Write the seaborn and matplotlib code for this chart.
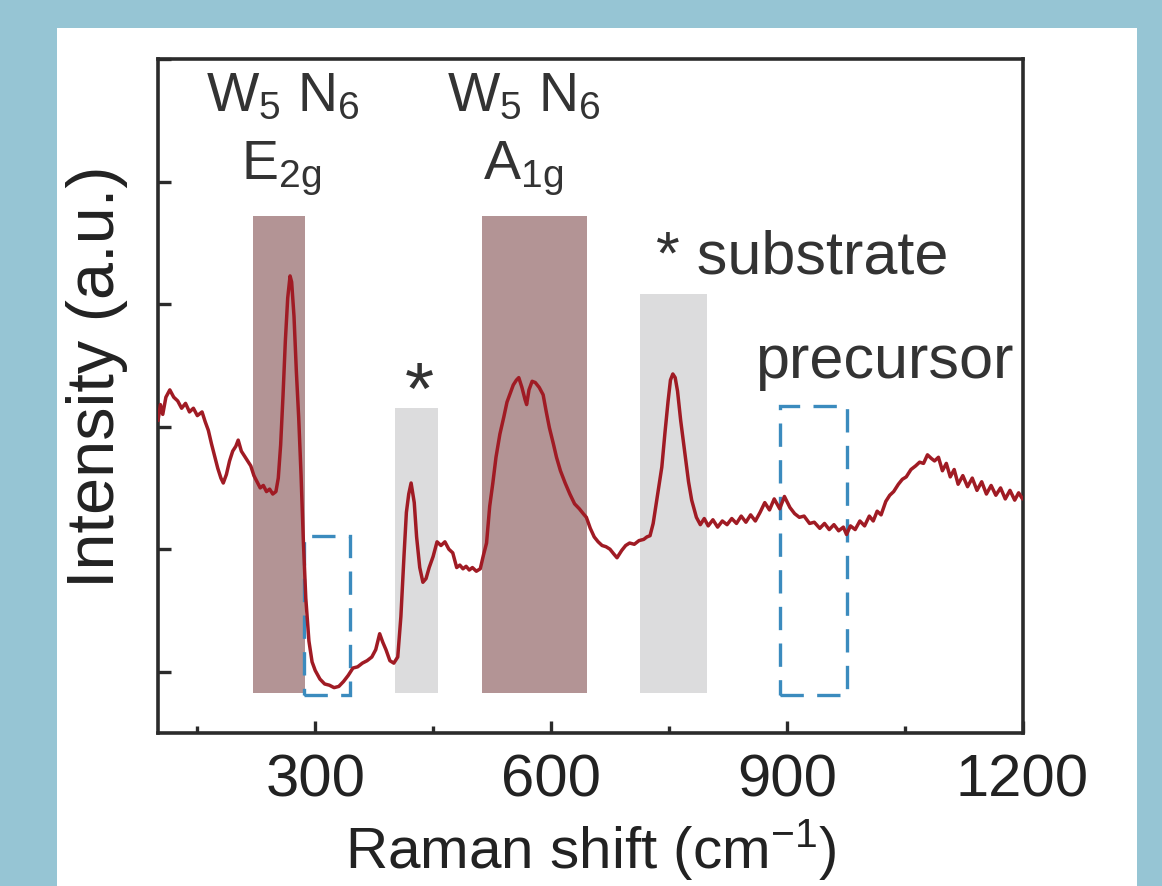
import numpy as np
import pandas as pd
import seaborn as sns
import matplotlib.pyplot as plt
from matplotlib.patches import Rectangle

# Raman spectrum (shift in cm-1, intensity in y-tick units)
shift = [100, 103, 106, 110, 115, 120, 125, 130, 135, 140, 145, 150, 156, 160, 164,
         168, 172, 176, 180, 183, 187, 191, 195, 199, 202, 206, 210, 214, 218, 222,
         226, 230, 234, 238, 242, 246, 250, 253, 256, 259, 262, 265, 268, 270, 273,
         276, 279, 282, 285, 288, 292, 296, 300, 306, 312, 318, 324, 330, 336, 342,
         348, 354, 360, 366, 372, 377, 382, 386, 390, 395, 400, 405, 409, 413, 416,
         419, 422, 426, 429, 433, 437, 441, 445, 450, 455, 460, 465, 470, 475, 480,
         484, 488, 492, 496, 500, 505, 510, 514, 518, 522, 526, 530, 535, 540, 544,
         548, 552, 556, 559, 563, 567, 569, 572, 576, 580, 585, 590, 594, 598, 603,
         607, 612, 618, 624, 630, 636, 641, 645, 650, 655, 660, 665, 670, 675, 680,
         684, 690, 695, 700, 706, 712, 718, 722, 726, 730, 735, 741, 745, 749, 752,
         755, 758, 761, 765, 770, 775, 779, 785, 790, 795, 800, 806, 812, 818, 824,
         830, 836, 842, 848, 854, 860, 866, 872, 878, 884, 891, 897, 904, 910, 916,
         922, 929, 935, 942, 948, 954, 960, 966, 972, 976, 981, 987, 993, 999, 1005,
         1010, 1015, 1020, 1026, 1031, 1036, 1042, 1047, 1052, 1058, 1064, 1069, 1074,
         1079, 1084, 1088, 1093, 1098, 1103, 1108, 1113, 1118, 1124, 1130, 1136, 1142,
         1148, 1154, 1160, 1166, 1172, 1178, 1184, 1190, 1195, 1200]
intensity = [3.05, 3.18, 3.10, 3.24, 3.30, 3.24, 3.21, 3.15, 3.19, 3.12, 3.15, 3.09, 3.12, 3.04, 2.97,
             2.86, 2.76, 2.66, 2.58, 2.54, 2.61, 2.72, 2.80, 2.84, 2.89, 2.80, 2.76, 2.72, 2.68, 2.60,
             2.55, 2.50, 2.52, 2.47, 2.49, 2.45, 2.47, 2.58, 2.85, 3.25, 3.70, 4.05, 4.23, 4.18, 3.90,
             3.45, 3.07, 2.60, 2.05, 1.60, 1.25, 1.08, 1.01, 0.94, 0.90, 0.89, 0.87, 0.88, 0.92, 0.97,
             1.03, 1.04, 1.07, 1.09, 1.12, 1.18, 1.31, 1.24, 1.18, 1.09, 1.07, 1.12, 1.45, 1.95, 2.30,
             2.45, 2.54, 2.38, 2.10, 1.85, 1.73, 1.76, 1.85, 1.94, 2.06, 2.03, 2.06, 2.00, 1.97, 1.85,
             1.87, 1.84, 1.86, 1.83, 1.85, 1.82, 1.84, 1.95, 2.05, 2.35, 2.54, 2.75, 2.94, 3.08, 3.20,
             3.27, 3.34, 3.38, 3.40, 3.32, 3.22, 3.18, 3.30, 3.37, 3.36, 3.32, 3.26, 3.12, 2.99, 2.86,
             2.75, 2.64, 2.54, 2.45, 2.37, 2.33, 2.29, 2.26, 2.17, 2.10, 2.06, 2.03, 2.02, 2.00, 1.96,
             1.93, 1.99, 2.03, 2.05, 2.04, 2.07, 2.08, 2.10, 2.11, 2.21, 2.42, 2.67, 2.95, 3.21, 3.38,
             3.43, 3.40, 3.29, 3.05, 2.80, 2.55, 2.40, 2.26, 2.20, 2.25, 2.19, 2.24, 2.18, 2.23, 2.20,
             2.25, 2.21, 2.27, 2.22, 2.28, 2.23, 2.30, 2.38, 2.32, 2.41, 2.33, 2.43, 2.34, 2.29, 2.26,
             2.27, 2.21, 2.22, 2.17, 2.21, 2.16, 2.20, 2.15, 2.18, 2.12, 2.19, 2.16, 2.23, 2.19, 2.27,
             2.23, 2.31, 2.28, 2.39, 2.44, 2.47, 2.53, 2.57, 2.59, 2.65, 2.68, 2.71, 2.70,
             2.77, 2.74, 2.72, 2.75, 2.64, 2.70, 2.59, 2.65, 2.53, 2.60, 2.51, 2.58, 2.48,
             2.55, 2.45, 2.52, 2.44, 2.50, 2.41, 2.48, 2.40, 2.46, 2.41]

# shaded bands: W5N6 E2g, Si (*), W5N6 A1g, substrate (*)
band_left = [221, 401, 512, 713]
band_right = [287, 456, 646, 799]
band_bottom = [0.83, 0.83, 0.83, 0.83]
band_top = [4.72, 3.15, 4.72, 4.08]
band_color = ["#B39495", "#DCDCDD", "#B39495", "#DCDCDD"]

# dashed boxes marking the (missing) precursor peaks
box_left = [286, 891]
box_right = [344, 976]
box_bottom = [0.81, 0.81]
box_top = [2.11, 3.17]

sns.set_theme(style="ticks")
plt.rcParams["font.family"] = ["Liberation Sans", "DejaVu Sans"]
plt.rcParams["mathtext.fontset"] = "custom"
plt.rcParams["mathtext.rm"] = "Liberation Sans"
plt.rcParams["mathtext.it"] = "Liberation Sans:italic"

text_col = "#333333"
line_col = "#A01B24"
box_col = "#3B8BBE"

fig = plt.figure(figsize=(11.62, 8.86), dpi=100, facecolor="#96C5D4")
# white panel behind the plot
fig.patches.append(Rectangle((0.049, 0), 0.9295, 0.968, transform=fig.transFigure,
                             facecolor="white", edgecolor="none", zorder=-1))
ax = fig.add_axes([0.136, 0.1727, 0.744, 0.7607])
ax.set_zorder(2)
ax.set_facecolor("white")

ax.bar(band_left, np.subtract(band_top, band_bottom), width=np.subtract(band_right, band_left),
       bottom=band_bottom, align="edge", color=band_color, linewidth=0, zorder=1)
ax.bar(box_left, np.subtract(box_top, box_bottom), width=np.subtract(box_right, box_left),
       bottom=box_bottom, align="edge", fill=False, edgecolor=box_col, linewidth=2.4,
       linestyle=(0, (7, 4)), zorder=2)

df = pd.DataFrame({"shift": shift, "intensity": intensity})
sns.lineplot(data=df, x="shift", y="intensity", ax=ax, color=line_col, linewidth=2.5,
             sort=False, estimator=None, zorder=3)

ax.set_xlim(100, 1200)
ax.set_ylim(0.5, 6)
ax.set_xticks([300, 600, 900, 1200])
ax.set_xticks([150, 450, 750, 1050], minor=True)
ax.set_yticks([1, 2, 3, 4, 5, 6])
ax.set_yticklabels([])
ax.tick_params(axis="both", which="major", direction="in", length=9, width=2.4,
               color="#2b2b2b", labelsize=43, labelcolor="#222222", pad=15)
ax.tick_params(axis="x", which="minor", direction="in", length=5, width=2.4, color="#2b2b2b")
for s in ax.spines.values():
    s.set_linewidth(2.6)
    s.set_color("#2b2b2b")

ax.set_xlabel("Raman shift (cm$^{\\mathrm{-1}}$)", fontsize=42, color="#222222", labelpad=6)
ax.set_ylabel("Intensity (a.u.)", fontsize=48, color="#222222")
ax.yaxis.set_label_coords(-0.035, 0.528)

# peak labels
ax.text(259, 5.57, "W$_5$ N$_6$", fontsize=40, color=text_col, ha="center", va="baseline")
ax.text(256, 5.02, "E$_{\\mathrm{2g}}$", fontsize=40, color=text_col, ha="center", va="baseline")
ax.text(565, 5.57, "W$_5$ N$_6$", fontsize=40, color=text_col, ha="center", va="baseline")
ax.text(564, 5.02, "A$_{\\mathrm{1g}}$", fontsize=40, color=text_col, ha="center", va="baseline")
ax.text(433, 3.10, "*", fontsize=54, color=text_col, ha="center", va="baseline")
ax.text(734, 4.25, "* substrate", fontsize=44, color=text_col, ha="left", va="baseline")
ax.text(859, 3.40, "precursor", fontsize=44, color=text_col, ha="left", va="baseline")

fig.savefig("out.png", dpi=100, facecolor=fig.get_facecolor())
